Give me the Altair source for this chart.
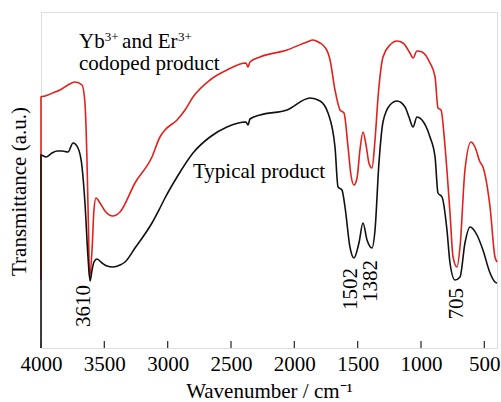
import altair as alt
import pandas as pd

# Wavenumber (cm^-1) and transmittance (arbitrary units)
red_wn = [4000, 4000, 3968, 3889, 3850, 3787, 3732, 3676, 3653, 3637, 3625, 3617, 3597, 3582, 3566,
          3534, 3495, 3432, 3376, 3258, 3124, 3061, 3021, 2926, 2863, 2800, 2666, 2532, 2382, 2366,
          2350, 2271, 2058, 1900, 1853, 1797, 1774, 1734, 1718, 1679, 1639, 1608, 1576, 1553, 1529,
          1505, 1482, 1458, 1434, 1411, 1387, 1363, 1339, 1300, 1245, 1189, 1142, 1087, 1063, 1032,
          992, 929, 889, 866, 842, 810, 771, 747, 716, 692, 653, 605, 574, 534, 511, 455, 416, 400]
red_t = [68, 251, 252, 256, 258, 263, 266, 263, 245, 188, 118, 70, 98, 138, 150,
         145, 137, 132, 136, 165, 191, 211, 218, 228, 238, 251, 268, 278, 285, 281,
         286, 291, 298, 306, 308, 305, 303, 295, 288, 258, 238, 235, 201, 173, 163,
         170, 198, 216, 203, 185, 180, 208, 251, 291, 303, 307, 305, 295, 290, 297,
         296, 285, 271, 240, 238, 201, 135, 91, 81, 101, 178, 206, 201, 186, 181, 141, 91, 86]

black_wn = [4000, 4000, 3961, 3913, 3874, 3834, 3787, 3747, 3708, 3676, 3653, 3629, 3613, 3597, 3582,
            3558, 3518, 3479, 3432, 3376, 3337, 3258, 3124, 3061, 3021, 2926, 2800, 2666, 2532, 2382,
            2366, 2350, 2271, 2058, 1876, 1797, 1734, 1679, 1655, 1624, 1600, 1561, 1529, 1490, 1458,
            1426, 1387, 1363, 1332, 1300, 1245, 1189, 1126, 1095, 1063, 1032, 992, 929, 889, 866,
            834, 795, 771, 732, 692, 653, 613, 558, 511, 455, 416, 400]
black_t = [0, 193, 191, 195, 197, 197, 196, 205, 200, 181, 145, 91, 67, 78, 86,
           89, 85, 82, 81, 83, 86, 100, 125, 140, 150, 171, 195, 211, 221, 226,
           223, 229, 233, 238, 250, 247, 235, 201, 161, 158, 141, 101, 90, 105, 125,
           108, 100, 118, 185, 226, 243, 247, 241, 231, 221, 231, 228, 211, 191, 155,
           151, 118, 85, 68, 71, 105, 121, 113, 98, 75, 66, 65]

tick_values = [4000, 3500, 3000, 2500, 2000, 1500, 1000, 500]

peak_labels = ["3610", "1502", "1382", "705"]
peak_label_wn = [3610, 1505, 1350, 670]
peak_label_t = [63, 80, 88, 60]

FONT = "Liberation Serif"
FS = 21

df = pd.concat([
    pd.DataFrame({"wn": red_wn, "t": red_t, "s": "doped", "i": range(len(red_wn))}),
    pd.DataFrame({"wn": black_wn, "t": black_t, "s": "typical", "i": range(len(black_wn))}),
])

xscale = alt.Scale(domain=[4000, 400], nice=False, zero=False)
yscale = alt.Scale(domain=[0, 336], nice=False, zero=False)

xaxis = alt.Axis(values=tick_values, format="d", ticks=False, domain=False, grid=False,
                 labelFont=FONT, labelFontSize=FS, labelColor="black", labelPadding=5,
                 labelFlush=False, labelOverlap=False,
                 title="Wavenumber / cm⁻¹", titleFont=FONT, titleFontSize=FS,
                 titleFontWeight="normal", titleColor="black", titleBaseline="alphabetic",
                 titleY=49)
yaxis = alt.Axis(ticks=False, labels=False, domain=False, grid=False,
                 title="Transmittance (a.u.)", titleFont=FONT, titleFontSize=FS,
                 titleFontWeight="normal", titleColor="black", titleAngle=270,
                 titleBaseline="alphabetic", titleX=-16, titleY=179, titleAlign="center")

lines = alt.Chart(df).mark_line(strokeWidth=1.6, interpolate="monotone").encode(
    x=alt.X("wn:Q", scale=xscale, axis=xaxis),
    y=alt.Y("t:Q", scale=yscale, axis=yaxis),
    color=alt.Color("s:N", scale=alt.Scale(domain=["typical", "doped"], range=["#111111", "#e3201b"]),
                    legend=None),
    order="i:Q",
    detail="s:N",
)

ticks_df = pd.DataFrame({"wn": tick_values, "y0": [0] * len(tick_values), "y1": [7] * len(tick_values)})
ticks = alt.Chart(ticks_df).mark_rule(color="#333333", strokeWidth=1.3).encode(
    x=alt.X("wn:Q", scale=xscale), y=alt.Y("y0:Q", scale=yscale), y2="y1:Q")

peaks_df = pd.DataFrame({"label": peak_labels, "wn": peak_label_wn, "t": peak_label_t})
peaks = alt.Chart(peaks_df).mark_text(angle=270, align="right", baseline="alphabetic",
                                      font=FONT, fontSize=FS, color="black").encode(
    x=alt.X("wn:Q", scale=xscale), y=alt.Y("t:Q", scale=yscale), text="label:N")

ann_text = ["Yb", "3+", "and Er", "3+", "codoped product", "Typical product"]
ann_wn = [3700, 3497, 3360, 2918, 3700, 2800]
ann_t = [300, 307, 300, 307, 278, 170]
ann_size = [FS, 13, FS, 13, FS, FS]
ann_df = pd.DataFrame({"label": ann_text, "wn": ann_wn, "t": ann_t, "size": ann_size})
ann = alt.Chart(ann_df).mark_text(align="left", baseline="alphabetic", font=FONT,
                                  color="black").encode(
    x=alt.X("wn:Q", scale=xscale), y=alt.Y("t:Q", scale=yscale), text="label:N",
    size=alt.Size("size:Q", scale=None, legend=None))

chart = alt.layer(lines, ticks, peaks, ann).properties(
    width=456, height=336,
    autosize=alt.AutoSizeParams(type="none"),
    padding={"left": 41, "top": 12, "right": 4, "bottom": 54},
).configure_view(stroke="#333333", strokeWidth=1.3).configure(background="white")

chart.save("out.html", embed_options={"renderer": "svg", "actions": False})
